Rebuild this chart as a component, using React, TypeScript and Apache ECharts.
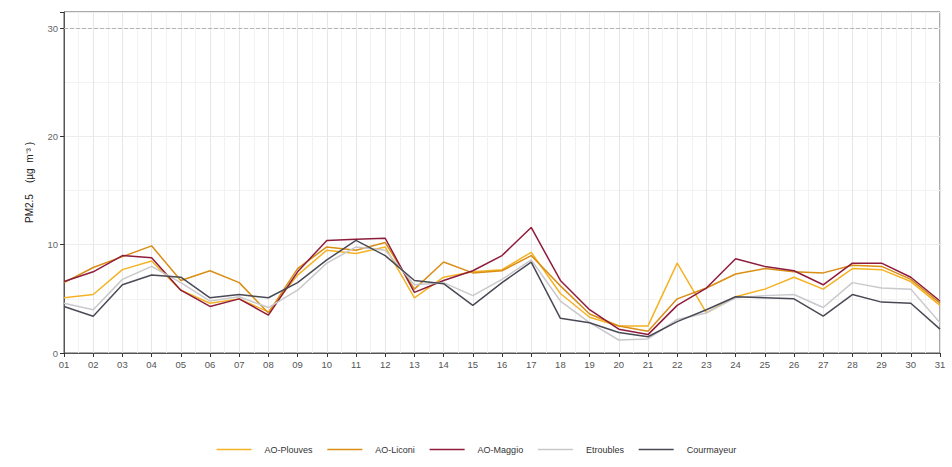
import React, { useEffect, useRef } from "react";
import * as echarts from "echarts";

const days = [
  "01","02","03","04","05","06","07","08","09","10","11","12","13","14","15","16",
  "17","18","19","20","21","22","23","24","25","26","27","28","29","30","31",
];
const plouves = [5.1, 5.4, 7.7, 8.5, 5.8, 4.6, 5.0, 3.8, 7.2, 9.5, 9.2, 9.8, 5.1, 7.0, 7.5, 7.7, 9.3, 5.5, 3.3, 2.5, 2.5, 8.3, 3.7, 5.2, 5.9, 7.0, 5.9, 7.8, 7.7, 6.6, 4.4];
const liconi = [6.5, 7.9, 8.9, 9.9, 6.7, 7.6, 6.5, 3.7, 7.8, 9.8, 9.5, 10.2, 5.9, 8.4, 7.4, 7.6, 9.0, 6.2, 3.6, 2.5, 2.0, 5.0, 6.0, 7.3, 7.8, 7.5, 7.4, 8.1, 8.0, 6.8, 4.6];
const maggio = [6.6, 7.5, 9.0, 8.8, 5.8, 4.3, 5.0, 3.5, 7.5, 10.4, 10.5, 10.6, 5.6, 6.7, 7.6, 9.0, 11.6, 6.7, 4.0, 2.2, 1.7, 4.4, 6.0, 8.7, 8.0, 7.6, 6.3, 8.3, 8.3, 7.0, 4.8];
const etroubles = [4.6, 4.0, 6.8, 8.0, 6.5, 4.8, 5.2, 4.2, 5.8, 8.3, 9.8, 9.5, 6.3, 6.5, 5.3, 6.8, 8.6, 4.8, 2.8, 1.2, 1.3, 3.1, 3.7, 5.1, 5.3, 5.4, 4.2, 6.5, 6.0, 5.9, 2.8];
const courmayeur = [4.3, 3.4, 6.3, 7.2, 7.0, 5.1, 5.4, 5.1, 6.5, 8.6, 10.4, 9.0, 6.7, 6.4, 4.4, 6.5, 8.4, 3.2, 2.8, 1.9, 1.5, 2.9, 4.0, 5.2, 5.1, 5.0, 3.4, 5.4, 4.7, 4.6, 2.2];

const seriesNames = ["AO-Plouves", "AO-Liconi", "AO-Maggio", "Etroubles", "Courmayeur"];
const seriesValues = [plouves, liconi, maggio, etroubles, courmayeur];
const seriesColors = ["#F4B324", "#D98E14", "#8E1C3C", "#C9C9CD", "#4A4A56"];
const yTicks = [0, 10, 20, 30];
const threshold = 30;

export default function App() {
  const ref = useRef<HTMLDivElement>(null);
  useEffect(() => {
    if (!ref.current) return;
    document.body.style.margin = "0";
    const chart = echarts.init(ref.current, undefined, { renderer: "svg" });
    const series: any[] = seriesNames.map((name, i) => ({
      name,
      type: "line",
      symbol: "none",
      data: seriesValues[i].map((v, d) => [d + 1, v]),
      lineStyle: { width: 1.5, color: seriesColors[i] },
      itemStyle: { color: seriesColors[i] },
      z: 3,
    }));
    series[0].markLine = {
      silent: true,
      symbol: "none",
      label: { show: false },
      lineStyle: { color: "#b5b5b5", type: "dashed", width: 1 },
      data: [{ yAxis: threshold }],
    };
    chart.setOption({
      animation: false,
      textStyle: { fontFamily: "Liberation Sans, Arial, sans-serif" },
      grid: {
        left: 64,
        right: 12,
        top: 12,
        bottom: 114,
        show: true,
        borderColor: "#555",
        borderWidth: 1,
        backgroundColor: "#fff",
      },
      legend: {
        top: 440,
        left: "center",
        itemWidth: 35,
        itemHeight: 10,
        itemGap: 14,
        itemStyle: { opacity: 0 },
        lineStyle: { width: 1.5 },
        textStyle: { fontSize: 9, color: "#333", padding: [0, 0, 0, 8] },
        data: seriesNames,
      },
      xAxis: {
        type: "value",
        min: 1,
        max: 31,
        interval: 1,
        axisLine: { show: true, lineStyle: { color: "#555" } },
        axisTick: { show: true, length: 4, lineStyle: { color: "#333" } },
        axisLabel: {
          fontSize: 9.5,
          color: "#555",
          margin: 6,
          formatter: (v: number) => days[v - 1] ?? "",
        },
        splitLine: { show: true, lineStyle: { color: "#e6e6e6", width: 1 } },
        minorTick: { show: false, splitNumber: 2 },
        minorSplitLine: { show: true, lineStyle: { color: "#f2f2f2", width: 1 } },
      },
      yAxis: {
        type: "value",
        min: 0,
        max: 31.5,
        interval: 10,
        name: "PM2.5    (µg  m⁻³ )",
        nameLocation: "middle",
        nameGap: 30,
        nameTextStyle: { fontSize: 10, color: "#222" },
        axisLine: { show: true, lineStyle: { color: "#555" } },
        axisTick: { show: true, length: 4, lineStyle: { color: "#333" } },
        axisLabel: {
          fontSize: 9.5,
          color: "#666",
          margin: 6,
          formatter: (v: number) => (yTicks.includes(v) ? String(v) : ""),
        },
        splitLine: { show: true, lineStyle: { color: "#ececec", width: 1 } },
        minorTick: { show: false, splitNumber: 2 },
        minorSplitLine: { show: true, lineStyle: { color: "#f3f3f3", width: 1 } },
      },
      series,
    });
    return () => chart.dispose();
  }, []);
  return <div ref={ref} style={{ width: 952, height: 467 }} />;
}
